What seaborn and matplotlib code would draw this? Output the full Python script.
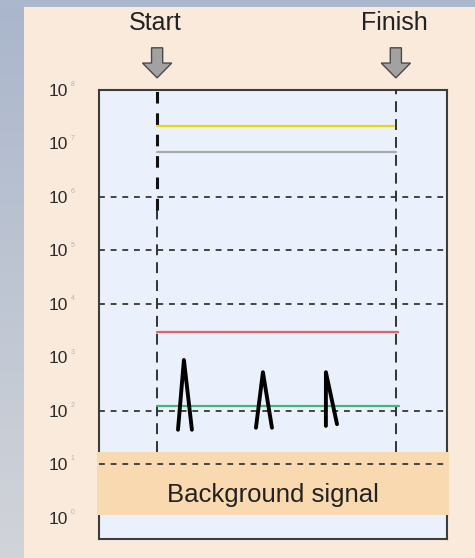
import numpy as np
import matplotlib
matplotlib.use("Agg")
import matplotlib.pyplot as plt
import matplotlib.transforms as mtransforms
from matplotlib.patches import Polygon, Rectangle
import seaborn as sns

# --- data ---
decades = [0, 1, 2, 3, 4, 5, 6, 7, 8]
grid_decades = [1, 2, 4, 5, 6]
start_x = 16.7
finish_x = 85.3
marker_labels = ["Start", "Finish"]

signal_names = ["yellow", "gray", "red", "green"]
signal_levels = [2.1e7, 6.9e6, 3.0e3, 1.2e2]
signal_colors = ["#f2d600", "#aaaaaa", "#e06464", "#3dba7a"]
signal_ends = [84.8, 85.3, 86.0, 86.3]

spike_x = [[22.7, 24.4, 26.7], [45.1, 47.1, 49.7], [65.2, 65.2, 68.4]]
spike_y = [[44, 890, 44], [48, 525, 48], [52, 525, 56]]

background_low = 1.1
background_high = 17
background_label = "Background signal"
thick_start_until = 10 ** 5.75

beige = "#f9eadc"
box_face = "#eaf1fc"
band_color = "#f8d9b0"

sns.set_style("white")
plt.rcParams["font.family"] = ["Liberation Sans", "DejaVu Sans"]

fig = plt.figure(figsize=(4.75, 5.58), dpi=100)
fig.patch.set_facecolor(beige)

# window-like frame strips
left = fig.add_axes([0, 0, 24 / 475, 1])
grad = np.linspace(0, 1, 256).reshape(-1, 1)
cmap = matplotlib.colors.LinearSegmentedColormap.from_list("g", ["#aab6cc", "#d1d4d9"])
left.imshow(grad, aspect="auto", cmap=cmap, extent=[0, 1, 0, 1], origin="upper")
left.axis("off")
top = fig.add_axes([0, 1 - 7 / 558, 1, 7 / 558])
top.set_facecolor("#abb7cc")
top.set_xticks([])
top.set_yticks([])
for s in top.spines.values():
    s.set_visible(False)

ax = fig.add_axes([99 / 475, 19 / 558, 348 / 475, 449 / 558])
ax.set_facecolor(box_face)
ax.set_yscale("log")
ax.set_xlim(0, 100)
ax.set_ylim(10 ** -0.4, 10 ** 8)
ax.set_xticks([])
ax.set_yticks([10.0 ** d for d in decades])
ax.set_yticklabels(["10"] * len(decades), fontsize=12.5, color="#2a2a2a")
ax.yaxis.set_minor_locator(matplotlib.ticker.NullLocator())
ax.tick_params(axis="y", length=0, pad=22)
for s in ax.spines.values():
    s.set_color("#3c3c3c")
    s.set_linewidth(1.5)

# tiny grey exponents next to each "10"
ytrans = mtransforms.blended_transform_factory(ax.transAxes, ax.transData)
for d in decades:
    ax.text(-0.075, 10.0 ** d * 1.25, str(d), transform=ytrans, fontsize=5,
            color="#b4b4b4", ha="center", va="center", clip_on=False)

# dashed gridlines at selected decades
for d in grid_decades:
    ax.axhline(10.0 ** d, color="#444444", lw=1.4, dashes=(3, 3), zorder=2)

# start / finish markers
ax.plot([start_x, start_x], [background_high, thick_start_until], color="#333333",
        lw=1.4, dashes=(5.6, 3.6), zorder=3)
ax.plot([finish_x, finish_x], [background_high, 10 ** 8.02], color="#333333", lw=1.4,
        dashes=(5.6, 3.6), zorder=3, clip_on=False)
ax.plot([start_x, start_x], [thick_start_until, 10 ** 8], color="#111111", lw=2.2,
        dashes=(3.8, 3.2), zorder=3)

# signal levels
for name, lvl, col, end in zip(signal_names, signal_levels, signal_colors, signal_ends):
    sns.lineplot(x=[start_x, end], y=[lvl, lvl], color=col, lw=1.6, ax=ax, zorder=4)

# spikes
for xs, ys in zip(spike_x, spike_y):
    sns.lineplot(x=xs, y=ys, sort=False, color="black", lw=2.8, ax=ax, zorder=5,
                 estimator=None)

# background band
band = Rectangle((-0.005, background_low), 1.01, background_high - background_low,
                 transform=ytrans, facecolor=band_color, edgecolor="none",
                 zorder=6, clip_on=False)
ax.add_patch(band)
ax.axhline(10.0, color="#444444", lw=1.4, dashes=(3, 3), zorder=7)
ax.text(50, 2.6, background_label, ha="center", va="center", fontsize=18.5,
        color="#222222", zorder=8)

# arrows + labels above the box
xtrans = mtransforms.blended_transform_factory(ax.transData, ax.transAxes)
for x, lab in zip([start_x, finish_x], marker_labels):
    sw, hw = 1.6, 4.2
    pts = [(x - sw, 1.094), (x + sw, 1.094), (x + sw, 1.060), (x + hw, 1.060),
           (x, 1.027), (x - hw, 1.060), (x - sw, 1.060)]
    ax.add_patch(Polygon(pts, closed=True, transform=xtrans, facecolor="#a2a2a2",
                         edgecolor="#4a4a4a", lw=1.0, clip_on=False))
    ax.text(x - 0.5, 1.149, lab, transform=xtrans, ha="center", va="center",
            fontsize=18, color="#222222")

fig.savefig("out.png", dpi=100, facecolor=fig.get_facecolor())
